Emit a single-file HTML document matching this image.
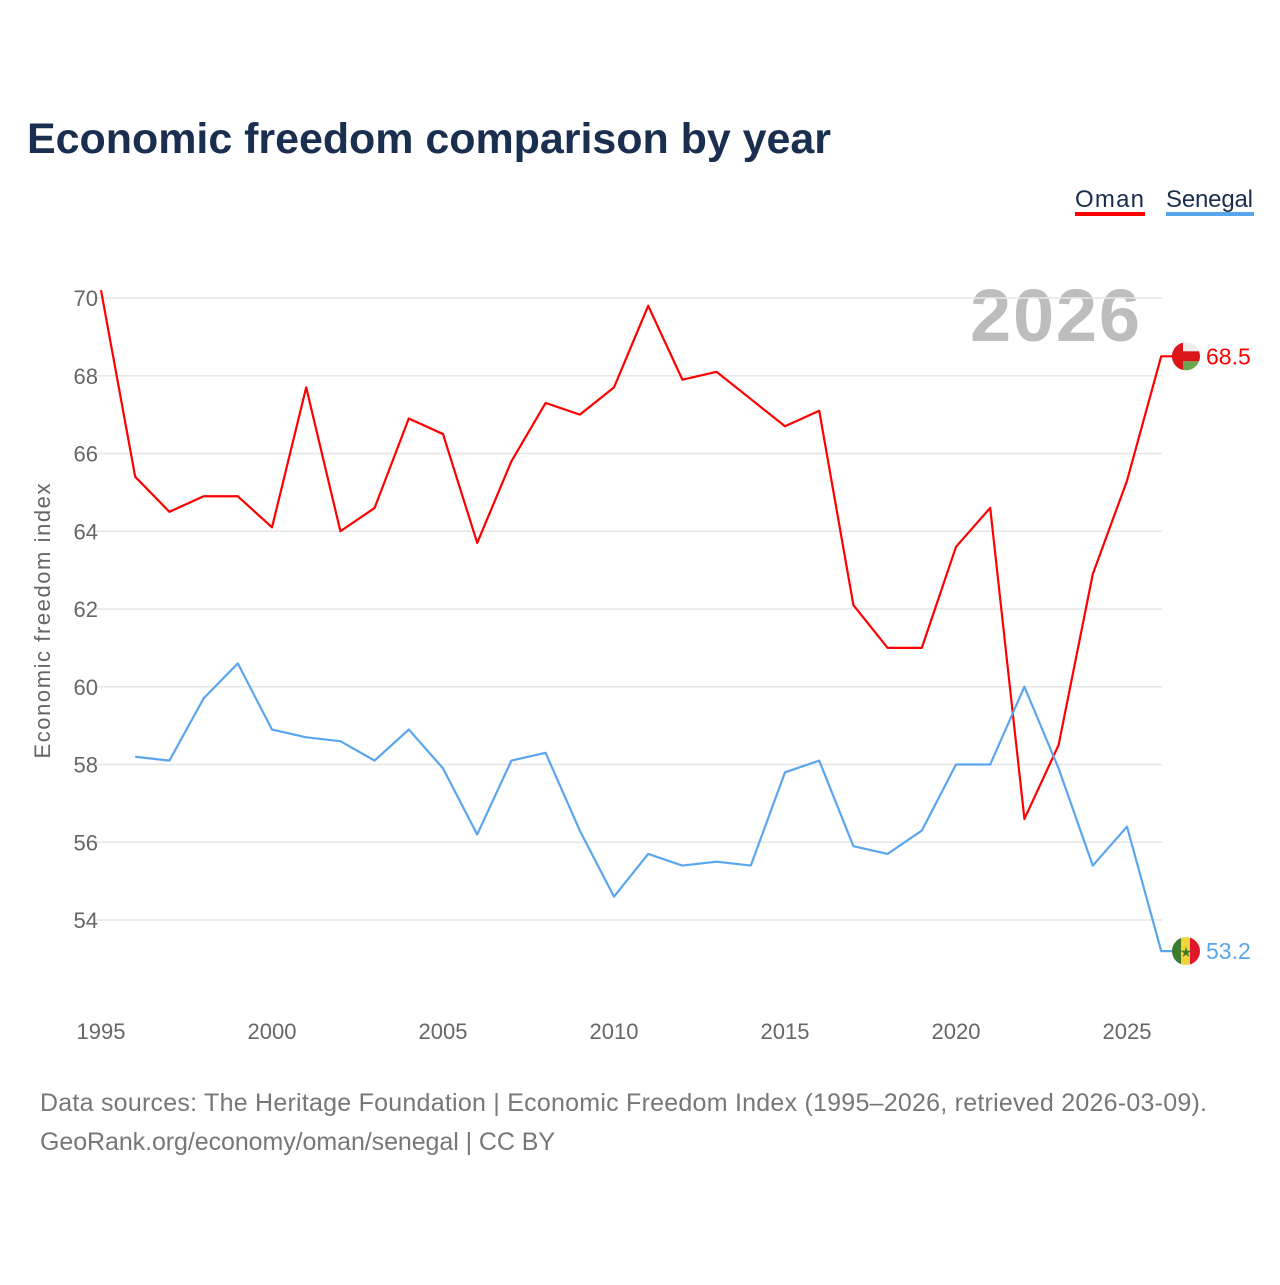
<!DOCTYPE html>
<html><head><meta charset="utf-8"><style>
body{margin:0;background:#fff;width:1280px;height:1280px;overflow:hidden;font-family:"Liberation Sans",sans-serif}
</style></head><body>
<svg id="chart" width="1280" height="1280" xmlns="http://www.w3.org/2000/svg">
<text x="27" y="153" font-size="43" font-weight="bold" fill="#1a2e4f" textLength="804">Economic freedom comparison by year</text>
<g><text x="1075" y="207" font-size="24" fill="#1a2e4f" textLength="69">Oman</text><rect x="1075" y="212" width="70" height="4" fill="#f00"/></g>
<g><text x="1166" y="207" font-size="24" fill="#1a2e4f" textLength="87">Senegal</text><rect x="1166" y="212" width="88" height="4" fill="#5aa6ee"/></g>
<text x="1140" y="341" font-size="74" font-weight="bold" fill="#bdbdbd" text-anchor="end" textLength="170">2026</text>
<text transform="translate(50,621) rotate(-90)" font-size="22" fill="#666" text-anchor="middle" textLength="275">Economic freedom index</text>
<g id="grid"></g><g id="series"></g>
<text x="40" y="1111" font-size="25" fill="#777" textLength="1167">Data sources: The Heritage Foundation | Economic Freedom Index (1995–2026, retrieved 2026-03-09).</text>
<text x="40" y="1150" font-size="25" fill="#777" textLength="515">GeoRank.org/economy/oman/senegal | CC BY</text>
<defs>
<clipPath id="c1"><circle cx="1186" cy="356" r="14"/></clipPath>
<clipPath id="c2"><circle cx="1186" cy="950" r="14"/></clipPath>
</defs>
</svg>
<script>
const years=[1995,1996,1997,1998,1999,2000,2001,2002,2003,2004,2005,2006,2007,2008,2009,2010,2011,2012,2013,2014,2015,2016,2017,2018,2019,2020,2021,2022,2023,2024,2025,2026];
const oman=[70.2,65.4,64.5,64.9,64.9,64.1,67.7,64.0,64.6,66.9,66.5,63.7,65.8,67.3,67.0,67.7,69.8,67.9,68.1,67.4,66.7,67.1,62.1,61.0,61.0,63.6,64.6,56.6,58.5,62.9,65.3,68.5];
const senegal=[null,58.2,58.1,59.7,60.6,58.9,58.7,58.6,58.1,58.9,57.9,56.2,58.1,58.3,56.3,54.6,55.7,55.4,55.5,55.4,57.8,58.1,55.9,55.7,56.3,58.0,58.0,60.0,57.9,55.4,56.4,53.2];
const yTicks=[54,56,58,60,62,64,66,68,70];
const xTicks=[1995,2000,2005,2010,2015,2020,2025];
const NS="http://www.w3.org/2000/svg";
const X=y=>101+(y-1995)*34.2, Y=v=>298+(70-v)*38.875;
function mk(t,a,p){const e=document.createElementNS(NS,t);for(const k in a)e.setAttribute(k,a[k]);p.appendChild(e);return e;}
const g=document.getElementById('grid'),s=document.getElementById('series'),svg=document.getElementById('chart');
yTicks.forEach(v=>{const l=mk('line',{x1:95,x2:1162,y1:Y(v),y2:Y(v),stroke:'#e6e6e6','stroke-width':1.5},g);


const t=mk('text',{x:98,y:Y(v)+8,'font-size':22,fill:'#666','text-anchor':'end'},g);t.textContent=v;

});
xTicks.forEach(v=>{const t=mk('text',{x:X(v),y:1039,'font-size':22,fill:'#666','text-anchor':'middle'},g);t.textContent=v;

});
function line(data,color,name){let d='';data.forEach((v,i)=>{if(v==null)return;d+=(d?'L':'M')+X(years[i])+','+Y(v);});
const last=data[data.length-1];d+='L1180,'+Y(last);
const p=mk('path',{d:d,fill:'none',stroke:color,'stroke-width':2.2,'stroke-linejoin':'round'},s);


const t=mk('text',{x:1206,y:Y(last)+8,'font-size':23,fill:color},s);t.textContent=last.toFixed(1);


return Y(last);}
const yo=line(oman,'#f00','oman'),ys=line(senegal,'#5aa6ee','senegal');
const fo=mk('g',{'clip-path':'url(#c1)',transform:'translate(0,'+(yo-356)+')'},svg);


mk('rect',{x:1172,y:342,width:28,height:28,fill:'#eee'},fo);
mk('rect',{x:1172,y:351,width:28,height:10,fill:'#db161b'},fo);
mk('rect',{x:1172,y:361,width:28,height:9,fill:'#6aa84f'},fo);
mk('rect',{x:1172,y:342,width:11,height:28,fill:'#db161b'},fo);
const fs=mk('g',{'clip-path':'url(#c2)',transform:'translate(0,'+(ys-950)+')'},svg);


mk('rect',{x:1172,y:936,width:10,height:28,fill:'#3f7a2e'},fs);
mk('rect',{x:1181,y:936,width:10,height:28,fill:'#f2d43a'},fs);
mk('rect',{x:1190,y:936,width:10,height:28,fill:'#e0162b'},fs);
const st=mk('text',{x:1186,y:956,'font-size':14,fill:'#3f7a2e','text-anchor':'middle'},fs);st.textContent='★';
</script>
</body></html>
